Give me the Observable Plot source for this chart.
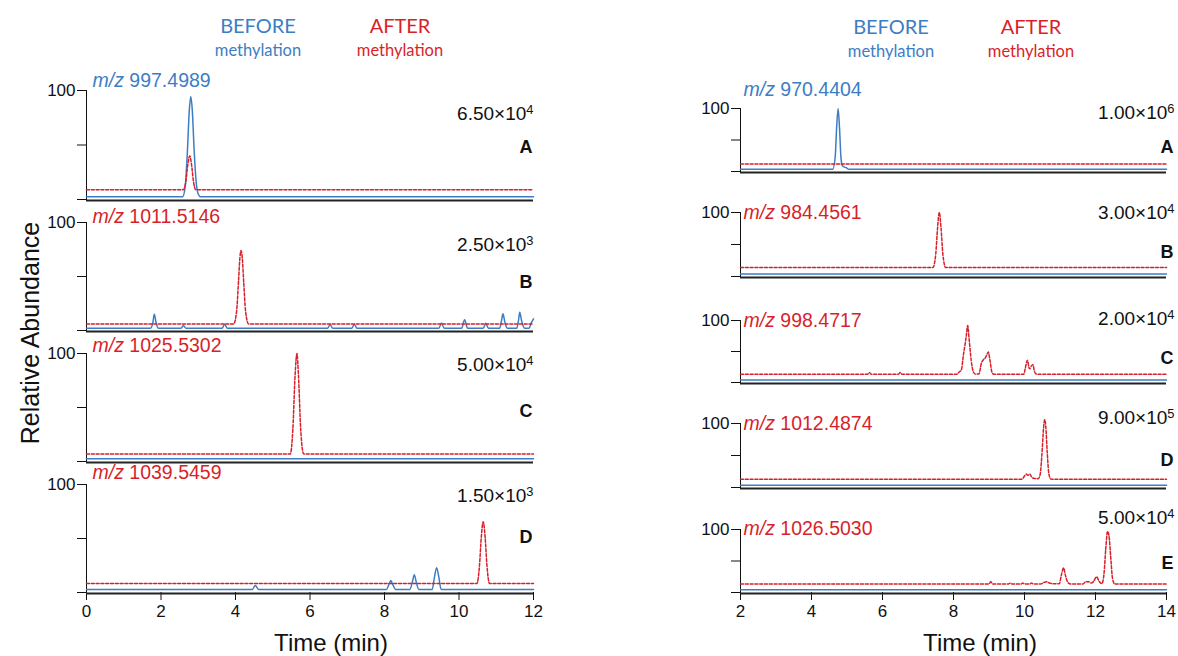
<!DOCTYPE html>
<html><head><meta charset="utf-8">
<script src="https://cdn.jsdelivr.net/npm/d3@7"></script>
<script src="https://cdn.jsdelivr.net/npm/@observablehq/plot@0.6"></script>
<style>
body{margin:0;background:#fff;}
#root{position:relative;width:1178px;height:656px;overflow:hidden;font-family:"Liberation Sans",Arial,sans-serif;color:#111;}
.abs{position:absolute;white-space:nowrap;line-height:1;}
.hdr{font-family:Lato,"Open Sans",sans-serif;transform:translate(-50%,-50%);}
.panel{position:absolute;}
.panel svg{overflow:visible;}
</style></head><body><div id="root"></div>
<script>
// ---------- data ----------
const BLUE = "#3d7dc4", RED = "#d81f2a";
const leftDomain = [0, 12], rightDomain = [2, 14];
const leftTicks = [0, 2, 4, 6, 8, 10, 12];
const rightTicks = [2, 4, 6, 8, 10, 12, 14];
const leftLetters = ["A", "B", "C", "D"];
const rightLetters = ["A", "B", "C", "D", "E"];
const leftMz = ["997.4989", "1011.5146", "1025.5302", "1039.5459"];
const rightMz = ["970.4404", "984.4561", "998.4717", "1012.4874", "1026.5030"];
const leftIntensity = ["6.50×10^4", "2.50×10^3", "5.00×10^4", "1.50×10^3"];
const rightIntensity = ["1.00×10^6", "3.00×10^4", "2.00×10^4", "9.00×10^5", "5.00×10^4"];
const leftMzIsBefore = [true, false, false, false];
const rightMzIsBefore = [true, false, false, false, false];

const leftA_before = [[0,2.5],[2.58,2.5],[2.65,12],[2.71,45],[2.76,82],[2.8,94.5],[2.84,82],[2.89,45],[2.95,14],[3.0,5],[3.06,2.5],[12,2.5]];
const leftA_after = [[0,9],[2.6,9],[2.67,17],[2.72,32],[2.77,40],[2.82,32],[2.87,17],[2.93,9],[12,9]];
const leftB_before = [[0,2],[1.72,2],[1.78,7],[1.82,15],[1.87,7],[1.93,2],[2.54,2],[2.6,4.6],[2.67,2],[3.64,2],[3.71,5.8],[3.78,2],[6.47,2],[6.54,5.5],[6.61,2],[7.12,2],[7.19,5.8],[7.26,2],[9.46,2],[9.53,7],[9.6,2],[10.07,2],[10.15,10],[10.23,2],[10.65,2],[10.72,6.8],[10.79,2],[11.09,2],[11.14,9],[11.18,15.4],[11.23,8],[11.3,2],[11.55,2],[11.6,10],[11.63,17],[11.68,9],[11.76,2],[11.88,2],[11.94,7],[12,10.8]];
const leftB_after = [[0,6],[3.95,6],[4.03,18],[4.08,45],[4.12,68],[4.15,74],[4.18,68],[4.22,45],[4.27,18],[4.35,6],[12,6]];
const leftC_before = [[0,2.5],[12,2.5]];
const leftC_after = [[0,7],[5.47,7],[5.54,30],[5.6,80],[5.65,100],[5.69,80],[5.75,30],[5.83,7],[12,7]];
const leftD_before = [[0,2.8],[4.45,2.8],[4.53,6.5],[4.62,2.8],[8.05,2.8],[8.12,7.5],[8.17,11],[8.22,7.5],[8.3,2.8],[8.68,2.8],[8.75,10],[8.8,16.5],[8.85,10],[8.92,2.8],[9.28,2.8],[9.34,14],[9.4,23],[9.46,14],[9.52,2.8],[12,2.8]];
const leftD_after = [[0,8.3],[10.48,8.3],[10.55,25],[10.6,52],[10.65,65.5],[10.7,52],[10.75,25],[10.82,8.3],[12,8.3]];

const rightA_before = [[2,3.5],[4.6,3.5],[4.67,25],[4.71,72],[4.75,100],[4.79,68],[4.83,22],[4.87,9],[4.93,7],[4.98,6],[5.05,3.5],[14,3.5]];
const rightA_after = [[2,12],[14,12]];
const rightB_before = [[2,4],[14,4]];
const rightB_after = [[2,14],[7.42,14],[7.5,35],[7.55,75],[7.6,100],[7.65,75],[7.7,35],[7.78,14],[14,14]];
const rightC_before = [[2,4],[14,4]];
const rightC_after = [[2,13.5],[5.58,13.5],[5.63,16],[5.68,13.5],[6.45,13.5],[6.5,16],[6.55,13.5],[8.1,13.5],[8.16,17],[8.22,20],[8.28,45],[8.33,63],[8.36,75],[8.4,92],[8.44,70],[8.5,35],[8.56,17],[8.62,13.5],[8.72,14],[8.78,30],[8.84,36.6],[8.9,40],[8.95,46],[8.98,49],[9.03,35],[9.08,17],[9.13,13.5],[9.98,13.5],[10.03,25],[10.08,36],[10.14,22],[10.2,27],[10.24,28.5],[10.28,18],[10.34,13.5],[14,13.5]];
const rightD_before = [[2,3.6],[14,3.6]];
const rightD_after = [[2,13],[9.93,13],[10.0,18],[10.05,21],[10.1,19],[10.15,21],[10.22,15],[10.3,14],[10.38,13.5],[10.44,20],[10.5,60],[10.54,95],[10.57,106],[10.6,95],[10.64,55],[10.69,20],[10.75,13],[14,13]];
const rightE_before = [[2,4.5],[14,4.5]];
const rightE_after = [[2,13.5],[9.0,13.5],[9.05,17],[9.1,13.5],[9.55,13.5],[9.6,15],[9.65,13.5],[9.9,13.5],[9.95,15],[10.0,13.5],[10.15,13.5],[10.2,15],[10.25,13.5],[10.45,13.5],[10.55,16],[10.62,17],[10.7,15],[10.8,14],[10.98,14],[11.04,28],[11.1,39],[11.15,28],[11.22,16],[11.3,13.5],[11.65,13.5],[11.72,17],[11.8,17],[11.88,15],[11.95,18],[12.03,25],[12.1,18],[12.18,14],[12.24,30],[12.29,70],[12.34,97],[12.38,90],[12.43,55],[12.48,22],[12.54,13.5],[14,13.5]];

const leftBefore = [leftA_before, leftB_before, leftC_before, leftD_before];
const leftAfter = [leftA_after, leftB_after, leftC_after, leftD_after];
const rightBefore = [rightA_before, rightB_before, rightC_before, rightD_before, rightE_before];
const rightAfter = [rightA_after, rightB_after, rightC_after, rightD_after, rightE_after];

// ---------- layout ----------
const LEFT = {svgLeft: 0, width: 560, ml: 86, mr: 27, tops: [90,222,353,484], bottoms: [199,330,461,592],
  mzDy: [-10,-6,-8,-12], intDy: [23,22,11,11], letDy: [57,60,58,53], mzDx: 6, rightDx: 0};
const RIGHT = {svgLeft: 640, width: 538, ml: 100, mr: 12, tops: [108,212,320,423,529], bottoms: [171,276,382,487,592],
  mzDy: [-19,0,0,0,-1], intDy: [4,0,-2,-6,-12], letDy: [39,40,38,37,34], mzDx: 3, rightDx: 8};

const root = document.getElementById("root");
const MT = 40;
const NS = "http://www.w3.org/2000/svg";

function fixTexts(svg) {
  svg.querySelectorAll("text").forEach(t => {
    const s = t.textContent;
    if (s.startsWith("m/z ")) {
      t.textContent = "";
      const a = document.createElementNS(NS, "tspan");
      a.setAttribute("font-style", "italic"); a.textContent = "m/z";
      const b = document.createElementNS(NS, "tspan");
      b.textContent = "\u00a0" + s.slice(4);
      t.appendChild(a); t.appendChild(b);
    } else if (s.includes("^")) {
      const [base, exp] = s.split("^");
      t.textContent = "";
      const a = document.createElementNS(NS, "tspan");
      a.textContent = base;
      const b = document.createElementNS(NS, "tspan");
      b.setAttribute("dy", "-0.42em"); b.setAttribute("font-size", "0.68em"); b.textContent = exp;
      t.appendChild(a); t.appendChild(b);
    } else if (/^\d+$/.test(s.trim())) {
      // axis tick labels
      t.style.fontSize = "17px";
      t.style.fontFamily = "'Liberation Sans', Arial, sans-serif";
    }
  });
}

function drawColumn(L, domain, ticks, befores, afters, mzs, mzBefore, ints, letters) {
  befores.forEach((before, i) => {
    const last = i === befores.length - 1;
    const plotH = L.bottoms[i] - L.tops[i];
    const mb = last ? 40 : 10;
    const chart = Plot.plot({
      width: L.width, height: MT + plotH + mb,
      marginLeft: L.ml, marginRight: L.mr, marginTop: MT, marginBottom: mb,
      x: {domain, ticks, axis: last ? "bottom" : null, tickSize: 8, tickPadding: 4, label: null},
      y: {domain: [0, 100], ticks: [0, 50, 100], tickFormat: d => d === 100 ? "100" : "", tickSize: 9, tickPadding: 2, line: true, label: null},
      style: {fontSize: "15px", fontFamily: "'Liberation Sans', Arial, sans-serif", color: "#111", background: "transparent", overflow: "visible"},
      marks: [
        Plot.ruleY([0], {stroke: "#222", strokeWidth: 2, dy: 1}),
        Plot.line(before, {x: d => d[0], y: d => d[1], stroke: BLUE, strokeWidth: 1.5, curve: "monotone-x"}),
        Plot.line(afters[i], {x: d => d[0], y: d => d[1], stroke: RED, strokeWidth: 1.5, strokeDasharray: "3,1.8", curve: "monotone-x"}),
        Plot.text(["m/z " + mzs[i]], {text: d => d, frameAnchor: "top-left", textAnchor: "start", lineAnchor: "middle",
          dx: L.mzDx, dy: L.mzDy[i], fill: mzBefore[i] ? BLUE : RED, fontSize: 19.5}),
        Plot.text([ints[i]], {text: d => d, frameAnchor: "top-right", textAnchor: "end", lineAnchor: "middle",
          dx: L.rightDx, dy: L.intDy[i], fill: "#111", fontSize: 19}),
        Plot.text([letters[i]], {text: d => d, frameAnchor: "top-right", textAnchor: "end", lineAnchor: "middle",
          dx: L.rightDx - 1, dy: L.letDy[i], fill: "#111", fontSize: 18, fontWeight: "bold"})
      ]
    });
    fixTexts(chart);
    const wrap = document.createElement("div");
    wrap.className = "panel";
    wrap.style.left = L.svgLeft + "px";
    wrap.style.top = (L.tops[i] - MT) + "px";
    wrap.appendChild(chart);
    root.appendChild(wrap);
  });
}

drawColumn(LEFT, leftDomain, leftTicks, leftBefore, leftAfter, leftMz, leftMzIsBefore, leftIntensity, leftLetters);
drawColumn(RIGHT, rightDomain, rightTicks, rightBefore, rightAfter, rightMz, rightMzIsBefore, rightIntensity, rightLetters);

function addText(txt, cls, style) {
  const d = document.createElement("div");
  d.className = "abs " + cls;
  d.textContent = txt;
  Object.assign(d.style, style);
  root.appendChild(d);
}
// header legend texts
[[258, 400], [891, 1031]].forEach(([bx, ax], k) => {
  const y1 = k ? 26 : 25, y2 = k ? 51 : 50;
  addText("BEFORE", "hdr", {left: bx + "px", top: y1 + "px", color: BLUE, fontSize: "20px"});
  addText("methylation", "hdr", {left: bx + "px", top: y2 + "px", color: BLUE, fontSize: "16.5px"});
  addText("AFTER", "hdr", {left: ax + "px", top: y1 + "px", color: RED, fontSize: "20px"});
  addText("methylation", "hdr", {left: ax + "px", top: y2 + "px", color: RED, fontSize: "16.5px"});
});
addText("Relative Abundance", "", {left: "30px", top: "333px", fontSize: "25px", transform: "translate(-50%,-50%) rotate(-90deg)", color: "#111"});
addText("Time (min)", "", {left: "331px", top: "643px", fontSize: "24px", transform: "translate(-50%,-50%)", color: "#111"});
addText("Time (min)", "", {left: "980px", top: "643px", fontSize: "24px", transform: "translate(-50%,-50%)", color: "#111"});
</script></body></html>
